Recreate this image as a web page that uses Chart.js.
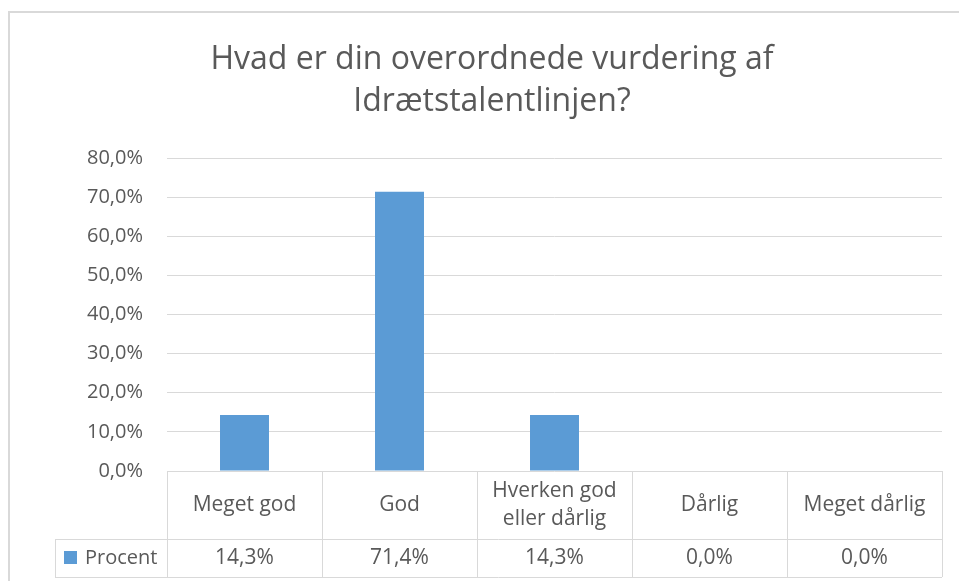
<!DOCTYPE html>
<html>
<head>
<meta charset="utf-8">
<script src="https://cdn.jsdelivr.net/npm/chart.js@4"></script>
<style>
html, body { margin: 0; padding: 0; background: #fff; overflow: hidden; }
</style>
</head>
<body>
<canvas id="chart" width="959" height="581"></canvas>
<script>
// data
const titleLines = ['Hvad er din overordnede vurdering af', 'Idrætstalentlinjen?'];
const categories = ['Meget god', 'God', ['Hverken god', 'eller dårlig'], 'Dårlig', 'Meget dårlig'];
const seriesName = 'Procent';
const procent = [14.3, 71.4, 14.3, 0.0, 0.0];
const yMin = 0;
const yMax = 80;
const yStep = 10;

const FONT = '"Open Sans", sans-serif';
const TEXT = '#595959';
const LINE = '#d9d9d9';
const BLUE = '#5b9bd5';

const fmt = v => v.toFixed(1).replace('.', ',') + '%';

// frame + the Excel style data table under the plot
const dataTable = {
    id: 'dataTable',
    beforeDraw(chart) {
        const c = chart.ctx;
        c.save();
        c.fillStyle = '#fff';
        c.fillRect(0, 0, chart.width, chart.height);
        c.strokeStyle = LINE;
        c.lineWidth = 2;
        c.beginPath();
        c.moveTo(9, chart.height);
        c.lineTo(9, 12);
        c.lineTo(chart.width, 12);
        c.stroke();
        c.restore();
    },
    afterDraw(chart) {
        const c = chart.ctx;
        const a = chart.chartArea;
        const x = chart.scales.x;
        const labels = chart.data.labels;
        const values = chart.data.datasets[0].data;
        const n = labels.length;
        const w = a.width / n;
        const top = a.bottom;
        const mid = a.bottom + 68;
        const bot = a.bottom + 106;
        const keyLeft = 55;

        c.save();
        c.strokeStyle = LINE;
        c.lineWidth = 1;
        c.beginPath();
        c.moveTo(keyLeft, mid + 0.5);
        c.lineTo(a.right, mid + 0.5);
        c.moveTo(keyLeft, bot + 0.5);
        c.lineTo(a.right, bot + 0.5);
        for (let i = 0; i <= n; i++) {
            const px = Math.round(a.left + i * w) + 0.5;
            c.moveTo(px, top);
            c.lineTo(px, bot);
        }
        c.moveTo(keyLeft + 0.5, mid);
        c.lineTo(keyLeft + 0.5, bot);
        c.stroke();

        c.font = '21px ' + FONT;
        c.fillStyle = TEXT;
        c.textAlign = 'center';
        c.textBaseline = 'middle';
        labels.forEach((lab, i) => {
            const cx = x.getPixelForValue(i);
            const lines = Array.isArray(lab) ? lab : [lab];
            const lh = 28;
            const y0 = (top + mid) / 2 - (lines.length - 1) * lh / 2;
            lines.forEach((t, j) => c.fillText(t, cx, y0 + j * lh));
            c.fillText(fmt(values[i]), cx, (mid + bot) / 2);
        });

        // legend key in the table
        c.fillStyle = BLUE;
        c.fillRect(64, mid + 12, 13, 13);
        c.fillStyle = TEXT;
        c.font = '20px ' + FONT;
        c.textAlign = 'left';
        c.fillText(chart.data.datasets[0].label, 85, (mid + bot) / 2);
        c.restore();
    }
};

new Chart(document.getElementById('chart'), {
    type: 'bar',
    data: {
        labels: categories,
        datasets: [{
            label: seriesName,
            data: procent,
            backgroundColor: BLUE,
            barPercentage: 0.316,
            categoryPercentage: 1
        }]
    },
    options: {
        responsive: false,
        animation: false,
        layout: { padding: { left: 42, right: 17, top: 0, bottom: 110 } },
        plugins: {
            legend: { display: false },
            tooltip: { enabled: false },
            title: {
                display: true,
                text: titleLines,
                color: TEXT,
                font: { family: FONT, size: 32, weight: 'normal', lineHeight: 42 / 32 },
                padding: { top: 39, bottom: 35 }
            }
        },
        scales: {
            x: { display: false },
            y: {
                min: yMin,
                max: yMax,
                border: { display: false },
                grid: { color: LINE, drawTicks: false },
                ticks: {
                    stepSize: yStep,
                    padding: 24,
                    color: TEXT,
                    font: { family: FONT, size: 20 },
                    callback: v => fmt(v)
                },
                afterFit(scale) { scale.width = 125; }
            }
        }
    },
    plugins: [dataTable]
});
</script>
</body>
</html>
